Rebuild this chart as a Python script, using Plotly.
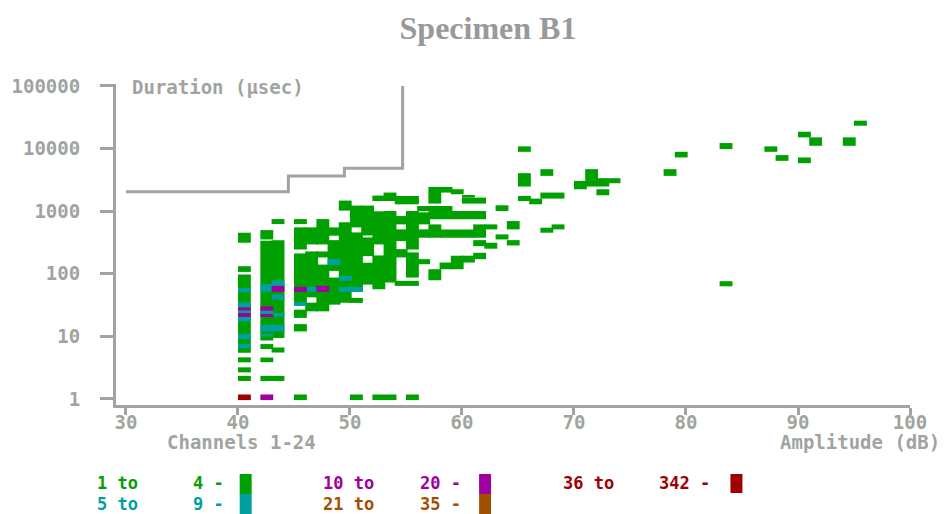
import plotly.graph_objects as go

# ---------------- data ----------------
# hit-count classes
CLASS_LO = [1, 5, 10, 21, 36]
CLASS_HI = [4, 9, 20, 35, 342]
CLASS_COLORS = ["#00A000", "#00A0A0", "#A000A0", "#A05000", "#A00000"]

# cells: (first amplitude dB, last amplitude dB, duration low µs, duration high µs)
cells_1_4 = [
    (40, 40, 5.5, 97), (40, 40, 107, 132), (40, 40, 313, 452),
    (40, 40, 3.85, 4.62), (40, 40, 2.66, 3.2), (40, 40, 1.94, 2.34),
    (42, 42, 8.6, 337), (42, 42, 353, 498), (43, 43, 9.4, 344), (43, 43, 621, 747),
    (42, 42, 6.26, 7.53), (43, 43, 5.52, 6.64), (42, 42, 3.87, 4.59), (42, 43, 1.94, 2.34),
    (45, 45, 621, 747), (45, 45, 244, 550), (45, 45, 30.9, 211), (45, 45, 19.7, 26.7),
    (45, 45, 12.0, 15.7),
    (46, 46, 294, 550), (46, 46, 42, 227), (46, 46, 25.1, 34.5),
    (47, 47, 294, 747), (47, 47, 182, 227), (47, 47, 25.1, 140),
    (48, 48, 405, 550), (48, 48, 111, 344), (48, 48, 32.1, 86.9),
    (49, 49, 1019, 1473), (49, 49, 34.5, 662),
    (50, 50, 550, 1225), (50, 50, 51.3, 457), (50, 50, 34.2, 41.1),
    (51, 51, 409, 1225), (51, 51, 191, 380), (51, 51, 67.1, 150),
    (52, 52, 1452, 1771), (52, 52, 294, 993), (52, 52, 56.5, 196),
    (53, 53, 1452, 1978), (53, 53, 72.3, 1004),
    (54, 55, 1285, 1746), (54, 54, 614, 834), (54, 54, 332, 511), (54, 54, 182, 247),
    (54, 55, 64, 77), (55, 55, 244, 1004), (55, 55, 86.9, 219),
    (56, 58, 1004, 1208), (56, 56, 614, 957), (56, 56, 376, 511), (56, 56, 142, 171),
    (57, 57, 1319, 2433), (57, 61, 739, 1004), (57, 57, 376, 614), (57, 57, 78.7, 118),
    (58, 58, 1978, 2433), (58, 60, 376, 511), (58, 58, 118, 151),
    (59, 59, 1859, 2235), (59, 59, 118, 194),
    (60, 61, 1319, 1646), (60, 60, 1646, 1811), (60, 60, 151, 194),
    (61, 61, 376, 614), (61, 61, 276, 344), (61, 61, 171, 216),
    (62, 62, 511, 614), (62, 62, 251, 313),
    (63, 63, 1004, 1239), (63, 63, 353, 425),
    (64, 64, 511, 694), (64, 64, 283, 344),
    (65, 65, 8851, 10820), (65, 65, 2470, 4035), (65, 65, 1452, 1746),
    (66, 66, 1285, 1585),
    (67, 67, 3653, 4676), (67, 68, 1585, 1978), (67, 67, 452, 544), (68, 68, 511, 614),
    (70, 70, 2235, 3035), (71, 71, 3035, 4676), (72, 73, 2790, 3357),
    (71, 72, 2470, 3035), (72, 72, 1791, 2235),
    (78, 78, 3653, 4676), (79, 79, 7196, 8851),
    (83, 83, 9781, 12210), (83, 83, 63, 76),
    (87, 87, 8851, 10820), (88, 88, 6353, 7840),
    (90, 90, 15060, 18530), (90, 90, 5834, 7196),
    (91, 91, 11050, 15060), (94, 94, 11050, 15060), (95, 95, 23120, 27800),
    (45, 45, 0.96, 1.18), (50, 50, 0.96, 1.18), (52, 53, 0.96, 1.18), (55, 55, 0.96, 1.18),
]
cells_5_9 = [
    (40, 40, 50.5, 59), (40, 40, 29, 35), (40, 40, 23.6, 26), (40, 40, 17.3, 20.4),
    (40, 40, 9.05, 11), (40, 40, 6.5, 7.6),
    (42, 42, 51.3, 68), (42, 42, 22.8, 25.7), (42, 42, 12.0, 15.3), (42, 42, 9.96, 10.9),
    (43, 43, 64, 78.7), (43, 43, 38.6, 46.4), (43, 43, 20.8, 23.6), (43, 43, 12.0, 15.3),
    (45, 45, 30.9, 35.2), (46, 46, 51.3, 61.7), (48, 48, 139, 171),
    (49, 49, 77, 92.5), (49, 49, 51.3, 61.7), (50, 50, 51.3, 61.7),
]
cells_10_20 = [
    (40, 40, 26, 29), (40, 40, 20.4, 23.6),
    (42, 42, 25.7, 30.1), (42, 42, 20.4, 22.8), (42, 42, 0.96, 1.18),
    (43, 43, 51.3, 64), (45, 45, 51.3, 61.7), (47, 47, 51.3, 64),
]
cells_21_35 = []
cells_36_342 = [
    (40, 40, 0.96, 1.18),
]

# duration threshold step line
threshold_amp = [30, 44.5, 44.5, 49.5, 49.5, 54.7, 54.7]
threshold_dur = [2048, 2048, 3650, 3650, 4845, 4845, 100000]

x_tick_vals = [30, 40, 50, 60, 70, 80, 90, 100]
y_tick_vals = [1, 10, 100, 1000, 10000, 100000]

# ---------------- style ----------------
GRAY = "#A0A4A0"
MONO = "DejaVu Sans Mono"
FS = 19
LEG_FS = 17
W, H = 946, 514
L, R, T, B = 114, 36, 84, 109
PW, PH = W - L - R, H - T - B
CELL_EXTRA = 0.15


def px(x):
    return (x - L) / PW


def py(y):
    return (H - B - y) / PH


fig = go.Figure()

all_cells = [cells_1_4, cells_5_9, cells_10_20, cells_21_35, cells_36_342]
for cells, color in zip(all_cells, CLASS_COLORS):
    if not cells:
        continue
    lefts = [c[0] for c in cells]
    rights = [c[1] + 1 + CELL_EXTRA for c in cells]
    fig.add_trace(go.Bar(
        x=[(a + b) / 2 for a, b in zip(lefts, rights)],
        width=[b - a for a, b in zip(lefts, rights)],
        base=[c[2] for c in cells],
        y=[c[3] - c[2] for c in cells],
        marker=dict(color=color, line=dict(width=0)),
        hoverinfo="skip", showlegend=False,
    ))

fig.add_trace(go.Scatter(
    x=threshold_amp, y=threshold_dur, mode="lines",
    line=dict(color=GRAY, width=3, shape="linear"),
    hoverinfo="skip", showlegend=False, cliponaxis=False,
))

axis_common = dict(
    showline=True, linecolor=GRAY, linewidth=3,
    ticks="outside", tickcolor=GRAY, tickwidth=3,
    showgrid=False, zeroline=False,
    tickfont=dict(family=MONO, size=FS, color=GRAY, weight="bold"),
)

fig.update_layout(
    width=W, height=H,
    margin=dict(l=L, r=R, t=T, b=B, pad=0),
    paper_bgcolor="white", plot_bgcolor="white",
    barmode="overlay", showlegend=False,
    title=dict(
        text="<b>Specimen B1</b>", x=488 / W, xanchor="center",
        y=1 - 28 / H, yanchor="middle",
        font=dict(family="Liberation Serif", size=32, color="#999999"),
    ),
    xaxis=dict(range=[29.11, 100], tickvals=x_tick_vals,
               ticktext=[str(v) for v in x_tick_vals], ticklen=7,
               ticklabelstandoff=-9, **axis_common),
    yaxis=dict(type="log", range=[-0.096, 5.03], tickvals=y_tick_vals,
               ticktext=[str(v) for v in y_tick_vals], ticklen=13,
               ticklabelstandoff=16, **axis_common),
)

ann_font = dict(family=MONO, size=FS, color=GRAY, weight="bold")
fig.add_annotation(text="Duration (µsec)", xref="paper", yref="paper",
                   x=px(128), y=py(87), xanchor="left", yanchor="middle",
                   showarrow=False, font=ann_font)
fig.add_annotation(text="Channels 1-24", xref="paper", yref="paper",
                   x=px(163), y=py(442), xanchor="left", yanchor="middle",
                   showarrow=False, font=ann_font)
fig.add_annotation(text="Amplitude (dB)", xref="paper", yref="paper",
                   x=px(942), y=py(442), xanchor="right", yanchor="middle",
                   showarrow=False, font=ann_font)

# legend (text left x, second text left x, swatch x0, x1, swatch y0, y1, text y)
LEGEND_SLOTS = [
    (94, 190, 238, 250, 474, 494, 483),
    (94, 190, 238, 250, 494, 514, 503.5),
    (321, 418, 478, 490, 474, 494, 483),
    (321, 418, 478, 490, 494, 514, 503.5),
    (561, 657, 730, 742, 474, 493, 483),
]
for lo, hi, color, (tx1, tx2, sx0, sx1, sy0, sy1, yc) in zip(
        CLASS_LO, CLASS_HI, CLASS_COLORS, LEGEND_SLOTS):
    lf = dict(family=MONO, size=LEG_FS, color=color, weight="bold")
    fig.add_annotation(text=f"{lo} to", xref="paper", yref="paper",
                       x=px(tx1), y=py(yc), xanchor="left", yanchor="middle",
                       showarrow=False, font=lf, borderpad=0)
    fig.add_annotation(text=f"{hi} -", xref="paper", yref="paper",
                       x=px(tx2), y=py(yc), xanchor="left", yanchor="middle",
                       showarrow=False, font=lf, borderpad=0)
    fig.add_shape(type="rect", xref="paper", yref="paper",
                  x0=px(sx0), x1=px(sx1), y0=py(sy1), y1=py(sy0),
                  fillcolor=color, line=dict(width=0))

fig.write_html("out.html")
